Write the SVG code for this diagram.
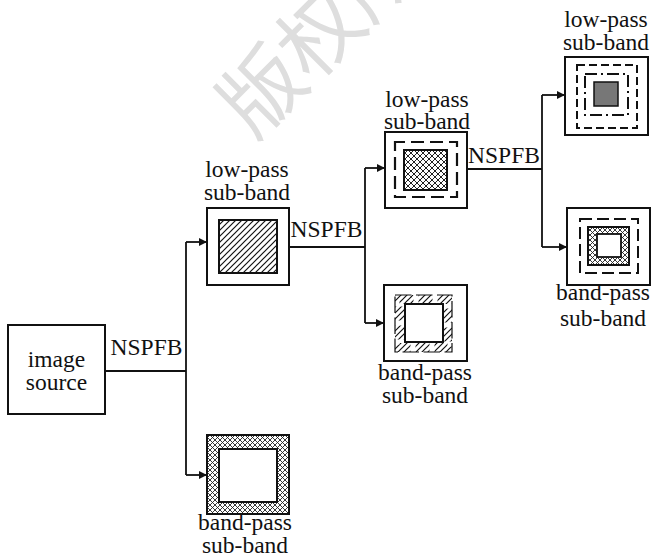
<svg xmlns="http://www.w3.org/2000/svg" width="652" height="560" viewBox="0 0 652 560">
<style>
.t{font-family:'Liberation Serif','DejaVu Serif',serif;font-size:23.5px;fill:#111;text-anchor:middle}
.box{fill:#fff;stroke:#111;stroke-width:2}
.ln{fill:none;stroke:#111;stroke-width:1.8}
.wm{font-family:'Noto Sans CJK SC',sans-serif;font-size:82px;fill:#dedede}
</style>
<defs>
<pattern id="diag" patternUnits="userSpaceOnUse" width="6" height="6">
<path d="M-1,7 L7,-1 M-4,4 L4,-4 M2,10 L10,2" stroke="#111" stroke-width="1.2"/>
</pattern>
<pattern id="cross" patternUnits="userSpaceOnUse" width="6" height="6">
<rect width="6" height="6" fill="#fff"/>
<path d="M-1,7 L7,-1 M-4,4 L4,-4 M2,10 L10,2 M-1,-1 L7,7 M-4,2 L2,8 M4,-2 L10,4" stroke="#222" stroke-width="1"/>
</pattern>
<pattern id="cross5" patternUnits="userSpaceOnUse" width="5" height="5">
<rect width="5" height="5" fill="#fff"/>
<path d="M-1,6 L6,-1 M-1,-1 L6,6 M-3.5,3.5 L1.5,8.5 M3.5,-1.5 L8.5,3.5 M-3.5,1.5 L1.5,-3.5 M3.5,6.5 L8.5,1.5" stroke="#222" stroke-width="0.9"/>
</pattern>
<marker id="arr" viewBox="0 0 10 10" refX="10" refY="5" markerWidth="8" markerHeight="8" markerUnits="userSpaceOnUse" orient="auto">
<path d="M0,0 L10,5 L0,10 Z" fill="#111"/>
</marker>
</defs>
<rect width="652" height="560" fill="#fff"/>
<text class="wm" x="254" y="141" transform="rotate(-45 254 141)">版权所</text>

<g id="connectors" font-family="Liberation Serif">
<path class="ln" d="M105,371 H186"/>
<path class="ln" d="M186,242 V475"/>
<path class="ln" d="M186,242 H207" marker-end="url(#arr)"/>
<path class="ln" d="M186,475 H207" marker-end="url(#arr)"/>
<path class="ln" d="M289,247 H365"/>
<path class="ln" d="M365,168 V323"/>
<path class="ln" d="M365,168 H385" marker-end="url(#arr)"/>
<path class="ln" d="M365,323 H384" marker-end="url(#arr)"/>
<path class="ln" d="M467,169 H542"/>
<path class="ln" d="M542,95 V247"/>
<path class="ln" d="M542,95 H565" marker-end="url(#arr)"/>
<path class="ln" d="M542,247 H567" marker-end="url(#arr)"/>
<text class="t" x="146.5" y="355" font-family="Liberation Serif">NSPFB</text>
<text class="t" x="326.5" y="237" font-family="Liberation Serif">NSPFB</text>
<text class="t" x="504" y="163" font-family="Liberation Serif">NSPFB</text>
</g>

<g id="image-source">
<rect class="box" x="8" y="325" width="97" height="89"/>
<text class="t" x="56.5" y="367" font-family="Liberation Serif">image</text>
<text class="t" x="56.5" y="390" font-family="Liberation Serif">source</text>
</g>

<g id="lowpass-1">
<text class="t" x="247" y="177" font-family="Liberation Serif">low-pass</text>
<text class="t" x="247" y="200" font-family="Liberation Serif">sub-band</text>
<rect class="box" x="207" y="208" width="82" height="77"/>
<rect x="219" y="220" width="58" height="53" fill="url(#diag)" stroke="#111" stroke-width="2"/>
</g>

<g id="bandpass-1">
<rect x="207" y="435" width="82" height="79" fill="url(#cross5)" stroke="#111" stroke-width="2"/>
<rect x="219" y="449" width="58" height="53" fill="#fff" stroke="#111" stroke-width="2"/>
<text class="t" x="245" y="530" font-family="Liberation Serif">band-pass</text>
<text class="t" x="245" y="553" font-family="Liberation Serif">sub-band</text>
</g>

<g id="lowpass-2">
<text class="t" x="427" y="107" font-family="Liberation Serif">low-pass</text>
<text class="t" x="427" y="129" font-family="Liberation Serif">sub-band</text>
<rect class="box" x="385" y="132" width="82" height="76"/>
<rect x="395" y="142" width="62" height="55" fill="none" stroke="#111" stroke-width="2.2" stroke-dasharray="13,6" stroke-dashoffset="3"/>
<rect x="404" y="150" width="43" height="40" fill="url(#cross)" stroke="#111" stroke-width="2"/>
</g>

<g id="bandpass-2">
<rect class="box" x="384" y="285" width="83" height="76"/>
<rect x="399.5" y="299.5" width="48" height="48" fill="none" stroke="url(#diag)" stroke-width="9" stroke-dasharray="14,5"/>
<rect x="395" y="295" width="57" height="57" fill="none" stroke="#111" stroke-width="1.2" stroke-dasharray="16.5,4.5"/>
<rect x="405" y="304" width="38" height="38" fill="#fff" stroke="#111" stroke-width="2"/>
<text class="t" x="425" y="380" font-family="Liberation Serif">band-pass</text>
<text class="t" x="425" y="403" font-family="Liberation Serif">sub-band</text>
</g>

<g id="lowpass-3">
<text class="t" x="606" y="27" font-family="Liberation Serif">low-pass</text>
<text class="t" x="606" y="50" font-family="Liberation Serif">sub-band</text>
<rect class="box" x="565" y="57" width="83" height="78"/>
<rect x="577" y="65" width="60" height="63" fill="none" stroke="#111" stroke-width="2" stroke-dasharray="8,4"/>
<rect x="585" y="74" width="43" height="41" fill="none" stroke="#111" stroke-width="2" stroke-dasharray="12,4,2,4"/>
<rect x="594" y="82" width="24" height="24" fill="#777" stroke="#111" stroke-width="1.5"/>
</g>

<g id="bandpass-3">
<rect class="box" x="567" y="208" width="83" height="77"/>
<rect x="580" y="219" width="58" height="54" fill="none" stroke="#111" stroke-width="2" stroke-dasharray="12,5"/>
<rect x="588" y="227" width="41" height="38" fill="url(#cross5)" stroke="#111" stroke-width="2"/>
<rect x="597" y="234" width="24" height="23" fill="#fff" stroke="#111" stroke-width="1.8"/>
<text class="t" x="603" y="300" font-family="Liberation Serif">band-pass</text>
<text class="t" x="603" y="326" font-family="Liberation Serif">sub-band</text>
</g>
</svg>
